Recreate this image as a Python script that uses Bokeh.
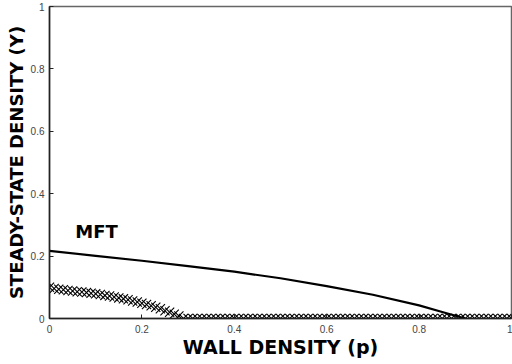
from bokeh.plotting import figure
from bokeh.models import FixedTicker, Range1d, Label
from bokeh.embed import file_html
from bokeh.resources import INLINE

# MFT curve
mft_p = [0.0, 0.1, 0.2, 0.3, 0.4, 0.5, 0.6, 0.7, 0.8, 0.85, 0.9]
mft_y = [0.217, 0.201, 0.185, 0.168, 0.150, 0.129, 0.104, 0.076, 0.042, 0.021, 0.0]

# simulation points (x markers)
sim_p = [0.00, 0.01, 0.02, 0.03, 0.04, 0.05, 0.06, 0.07, 0.08, 0.09,
         0.10, 0.11, 0.12, 0.13, 0.14, 0.15, 0.16, 0.17, 0.18, 0.19,
         0.20, 0.21, 0.22, 0.23, 0.24, 0.25, 0.26, 0.27, 0.28, 0.29,
         0.30, 0.31, 0.32, 0.33, 0.34, 0.35, 0.36, 0.37, 0.38, 0.39,
         0.40, 0.41, 0.42, 0.43, 0.44, 0.45, 0.46, 0.47, 0.48, 0.49,
         0.50, 0.51, 0.52, 0.53, 0.54, 0.55, 0.56, 0.57, 0.58, 0.59,
         0.60, 0.61, 0.62, 0.63, 0.64, 0.65, 0.66, 0.67, 0.68, 0.69,
         0.70, 0.71, 0.72, 0.73, 0.74, 0.75, 0.76, 0.77, 0.78, 0.79,
         0.80, 0.81, 0.82, 0.83, 0.84, 0.85, 0.86, 0.87, 0.88, 0.89,
         0.90, 0.91, 0.92, 0.93, 0.94, 0.95, 0.96, 0.97, 0.98, 0.99, 1.00]
sim_y = [0.100, 0.096, 0.094, 0.092, 0.090, 0.088, 0.086, 0.085, 0.083, 0.081,
         0.079, 0.077, 0.074, 0.072, 0.069, 0.066, 0.063, 0.060, 0.056, 0.053,
         0.049, 0.045, 0.041, 0.036, 0.031, 0.025, 0.020, 0.014, 0.008, 0.0,
         0.0, 0.0, 0.0, 0.0, 0.0, 0.0, 0.0, 0.0, 0.0, 0.0,
         0.0, 0.0, 0.0, 0.0, 0.0, 0.0, 0.0, 0.0, 0.0, 0.0,
         0.0, 0.0, 0.0, 0.0, 0.0, 0.0, 0.0, 0.0, 0.0, 0.0,
         0.0, 0.0, 0.0, 0.0, 0.0, 0.0, 0.0, 0.0, 0.0, 0.0,
         0.0, 0.0, 0.0, 0.0, 0.0, 0.0, 0.0, 0.0, 0.0, 0.0,
         0.0, 0.0, 0.0, 0.0, 0.0, 0.0, 0.0, 0.0, 0.0, 0.0,
         0.0, 0.0, 0.0, 0.0, 0.0, 0.0, 0.0, 0.0, 0.0, 0.0, 0.0]

ticks = [0, 0.2, 0.4, 0.6, 0.8, 1]
tick_labels = {0: "0", 0.2: "0.2", 0.4: "0.4", 0.6: "0.6", 0.8: "0.8", 1: "1"}

p = figure(width=512, height=364, output_backend="svg", toolbar_location=None,
           x_range=Range1d(0, 1), y_range=Range1d(0, 1),
           min_border_left=49, min_border_right=1, min_border_top=6, min_border_bottom=46)
p.grid.visible = False
p.outline_line_color = "#666666"
p.outline_line_width = 1.5
p.background_fill_color = "white"
p.border_fill_color = "white"

for ax in (p.xaxis[0], p.yaxis[0]):
    ax.ticker = FixedTicker(ticks=ticks)
    ax.major_label_overrides = tick_labels
    ax.minor_tick_line_color = None
    ax.major_tick_in = 4
    ax.major_tick_out = 0
    ax.axis_line_color = "#222222"
    ax.axis_line_width = 1.5
    ax.major_tick_line_color = "#222222"
    ax.major_label_text_font = "Liberation Sans"
    ax.major_label_text_font_size = "10px"
    ax.major_label_text_color = "#444444"
    ax.axis_label_text_font = "DejaVu Sans"
    ax.axis_label_text_font_style = "bold"
    ax.axis_label_text_color = "black"

p.xaxis.axis_label = "WALL DENSITY (p)"
p.yaxis.axis_label = "STEADY-STATE DENSITY (Y)"
p.xaxis.axis_label_text_font_size = "19px"
p.yaxis.axis_label_text_font_size = "18px"
p.xaxis.major_label_standoff = 6
p.xaxis.axis_label_standoff = 0
p.yaxis.major_label_standoff = 5
p.yaxis.axis_label_standoff = 1

p.line(mft_p, mft_y, line_color="black", line_width=2.2)
p.scatter(sim_p, sim_y, marker="x", size=13, line_color="black", line_width=1.1)

p.add_layout(Label(x=0.056, y=0.245, text="MFT", text_font="DejaVu Sans",
                   text_font_style="bold", text_font_size="18px", text_color="black"))

open("out.html", "w").write(file_html(p, INLINE))
